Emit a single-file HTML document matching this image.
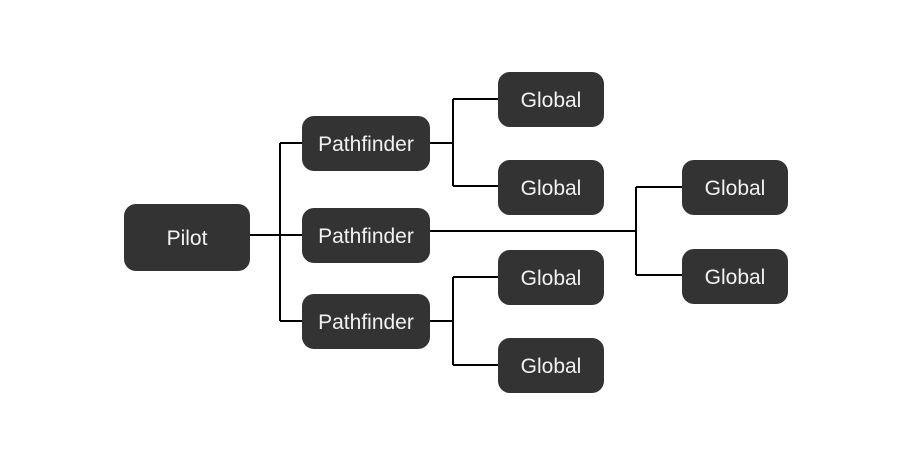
<!DOCTYPE html>
<html><head><meta charset="utf-8"><style>
html,body{margin:0;padding:0;background:#fff;}
body{width:912px;height:468px;position:relative;overflow:hidden;font-family:"Liberation Sans",sans-serif;}
.n{position:absolute;background:#333333;color:#f2f2f2;border-radius:12px;display:flex;align-items:center;justify-content:center;font-size:21px;box-sizing:border-box;padding-top:3px;}
svg{position:absolute;left:0;top:0;}
</style></head><body>
<svg width="912" height="468">
<g stroke="#000" stroke-width="2" fill="none">
<path d="M250 235 H302"/>
<path d="M280 143 V321"/>
<path d="M280 143 H302 M280 321 H302"/>
<path d="M430 231 H636 M636 187 V275 M636 187 H682 M636 275 H682"/>
<path d="M430 143 H453 M453 99 V186 M453 99 H498 M453 186 H498"/>
<path d="M430 321 H453 M453 277 V365 M453 277 H498 M453 365 H498"/>
</g></svg>
<div class="n" style="left:124px;top:204px;width:126px;height:67px;">Pilot</div>
<div class="n" style="left:302px;top:116px;width:128px;height:55px;">Pathfinder</div>
<div class="n" style="left:302px;top:208px;width:128px;height:55px;">Pathfinder</div>
<div class="n" style="left:302px;top:294px;width:128px;height:55px;">Pathfinder</div>
<div class="n" style="left:498px;top:72px;width:106px;height:55px;">Global</div>
<div class="n" style="left:498px;top:160px;width:106px;height:55px;">Global</div>
<div class="n" style="left:498px;top:250px;width:106px;height:55px;">Global</div>
<div class="n" style="left:498px;top:338px;width:106px;height:55px;">Global</div>
<div class="n" style="left:682px;top:160px;width:106px;height:55px;">Global</div>
<div class="n" style="left:682px;top:249px;width:106px;height:55px;">Global</div>
</body></html>
